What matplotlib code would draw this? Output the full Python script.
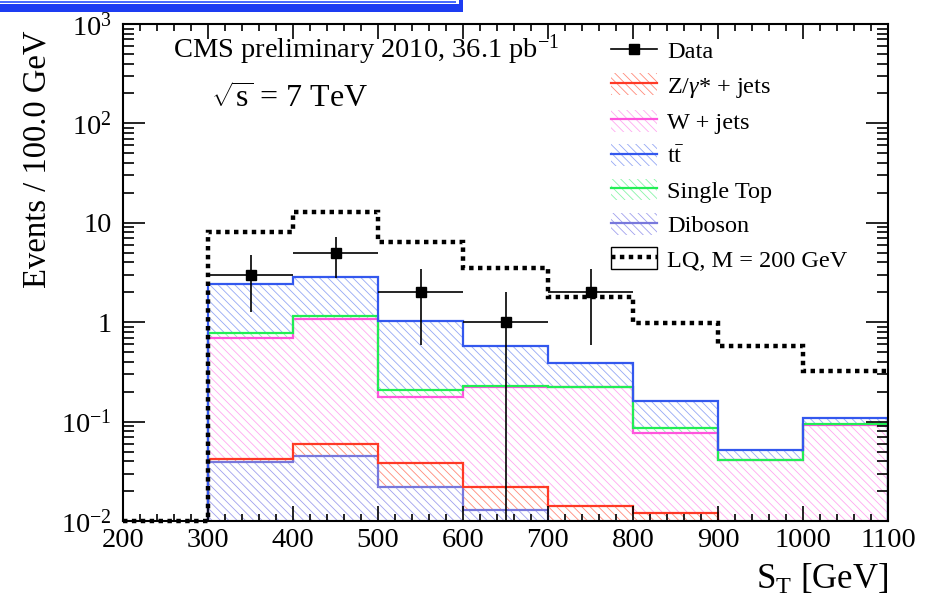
import numpy as np
import matplotlib
matplotlib.use('Agg')
import matplotlib.pyplot as plt
from matplotlib.lines import Line2D
from matplotlib.patches import Patch, Rectangle
from matplotlib.ticker import FixedLocator, FixedFormatter, LogLocator, MultipleLocator, NullFormatter

plt.rcParams['font.family'] = ['Liberation Serif', 'DejaVu Serif']
plt.rcParams['mathtext.fontset'] = 'custom'
plt.rcParams['mathtext.rm'] = 'Liberation Serif'
plt.rcParams['mathtext.it'] = 'Liberation Serif:italic'
plt.rcParams['hatch.linewidth'] = 0.6

# S_T bins (GeV)
edges = np.arange(200, 1101, 100)

# background contributions per bin (stacked bottom -> top)
diboson = [0, 0.039, 0.045, 0.022, 0.013, 0, 0, 0, 0]
zjets   = [0, 0.003, 0.015, 0.016, 0.009, 0.014, 0.012, 0.004, 0.004]
wjets   = [0, 0.647, 1.02, 0.140, 0.203, 0.208, 0.065, 0.037, 0.088]
stop    = [0, 0.084, 0.066, 0.029, 0.005, 0.002, 0.009, 0.0005, 0.002]
ttbar   = [0, 1.65, 1.68, 0.82, 0.35, 0.168, 0.076, 0.010, 0.014]

# signal
lq = [0.01, 8.1, 12.8, 6.4, 3.5, 1.8, 0.98, 0.57, 0.325]

# data
data_x = [350, 450, 550, 650, 750]
data_y = [3, 5, 2, 1, 2]
data_err = [1.73, 2.24, 1.41, 1.0, 1.41]

stack = [
    (diboson, '#7878dc', '#a0a0ee'),
    (zjets, '#ff3a26', '#ff8a7a'),
    (wjets, '#ff55dd', '#ffa8f0'),
    (stop, '#22ee55', '#88f5a8'),
    (ttbar, '#3358ee', '#95a8f5'),
]
legend_names = ['Diboson', r'Z/$\gamma$* + jets', 'W + jets', 'Single Top', r't$\bar{\mathrm{t}}$']

fig = plt.figure(figsize=(9.34, 6.01), dpi=100)
ax = fig.add_axes([123/934, 1-521/601, 765/934, 497/601])
ax.set_yscale('log')

floor = 1e-3
lower = np.zeros(len(edges) - 1)
for vals, col, hcol in stack:
    upper = lower + np.array(vals)
    lo = np.maximum(np.r_[lower, lower[-1]], floor)
    hi = np.maximum(np.r_[upper, upper[-1]], floor)
    ax.fill_between(edges, lo, hi, step='post', facecolor='none',
                    edgecolor=hcol, hatch='\\\\\\\\', linewidth=0)
    lower = upper

lower = np.zeros(len(edges) - 1)
for vals, col, hcol in stack:
    upper = lower + np.array(vals)
    ax.stairs(np.maximum(upper, floor), edges, color=col, lw=1.6, baseline=floor)
    lower = upper

ax.stairs(lq, edges, color='black', lw=3.2, linestyle=(0, (1, 1)),
          baseline=None, clip_on=False, zorder=5)

ax.errorbar(data_x, data_y, xerr=50, yerr=data_err, fmt='s', color='black',
            ms=7, lw=1.2, capsize=0, zorder=6)

ax.set_xlim(200, 1100)
ax.set_ylim(1e-2, 1e3)

ax.xaxis.set_major_locator(MultipleLocator(100))
ax.xaxis.set_minor_locator(MultipleLocator(20))
ax.yaxis.set_major_locator(FixedLocator([1e-2, 1e-1, 1, 10, 1e2, 1e3]))
ax.yaxis.set_major_formatter(FixedFormatter(['$10^{-2}$', '$10^{-1}$', '1', '10',
                                             '$10^{2}$', '$10^{3}$']))
ax.yaxis.set_minor_locator(LogLocator(base=10, subs=np.arange(2, 10)))
ax.yaxis.set_minor_formatter(NullFormatter())

ax.tick_params(which='both', direction='in', top=True, right=True, width=1.2,
               labelsize=20.5)
ax.tick_params(axis='x', which='major', length=11, pad=5)
ax.tick_params(axis='x', which='minor', length=5)
ax.tick_params(axis='y', which='major', length=16, pad=8)
ax.tick_params(axis='y', which='minor', length=8)
for s in ax.spines.values():
    s.set_linewidth(1.5)

fig.text(37/934, 1-30/601, 'Events / 100.0 GeV', rotation=90, ha='center',
         va='top', fontsize=23.5)
fig.text(888/934, 1-580/601, r'$\mathrm{S_T}$ [GeV]', ha='right', va='center',
         fontsize=25)

ax.text(366/934, 1-50/601, r'CMS preliminary 2010, 36.1 pb$^{-1}$',
        transform=fig.transFigure, ha='center', va='center', fontsize=20.5)
ax.text(290/934, 1-100/601, r'$\sqrt{\mathrm{s}}$ = 7 TeV',
        transform=fig.transFigure, ha='center', va='center', fontsize=23)

# legend in ROOT order
order = [1, 2, 4, 3, 0]
handles = [Line2D([], [], color='black', marker='s', ms=7, lw=1.2)]
leg_labels = ['Data']
for i in order:
    vals, col, hcol = stack[i]
    handles.append((Patch(facecolor='none', edgecolor=hcol, hatch='\\\\\\\\', lw=0),
                    Line2D([], [], color=col, lw=1.6)))
    leg_labels.append(legend_names[i])
handles.append((Patch(facecolor='white', edgecolor='black', lw=1.0),
                Line2D([], [], color='black', lw=3.2, linestyle=(0, (1, 1)))))
leg_labels.append('LQ, M = 200 GeV')

fig.legend(handles, leg_labels, loc='upper left',
           bbox_to_anchor=(611/934, 1-39/601), frameon=False, fontsize=17.5,
           handlelength=1.9, handleheight=1.0, handletextpad=0.4,
           labelspacing=0.42, borderpad=0, borderaxespad=0)

# slide frame remnant at the top
blue = '#1d3cf2'
fig.add_artist(Rectangle((0, 1-12/601), 463/934, 8/601, transform=fig.transFigure,
                         facecolor=blue, edgecolor='none'))
fig.add_artist(Rectangle((459/934, 1-12/601), 4/934, 12/601, transform=fig.transFigure,
                         facecolor=blue, edgecolor='none'))
fig.add_artist(Rectangle((0, 1-2.6/601), 456/934, 1.3/601, transform=fig.transFigure,
                         facecolor='#4a6cff', edgecolor='none'))

fig.savefig('out.png', dpi=100)
